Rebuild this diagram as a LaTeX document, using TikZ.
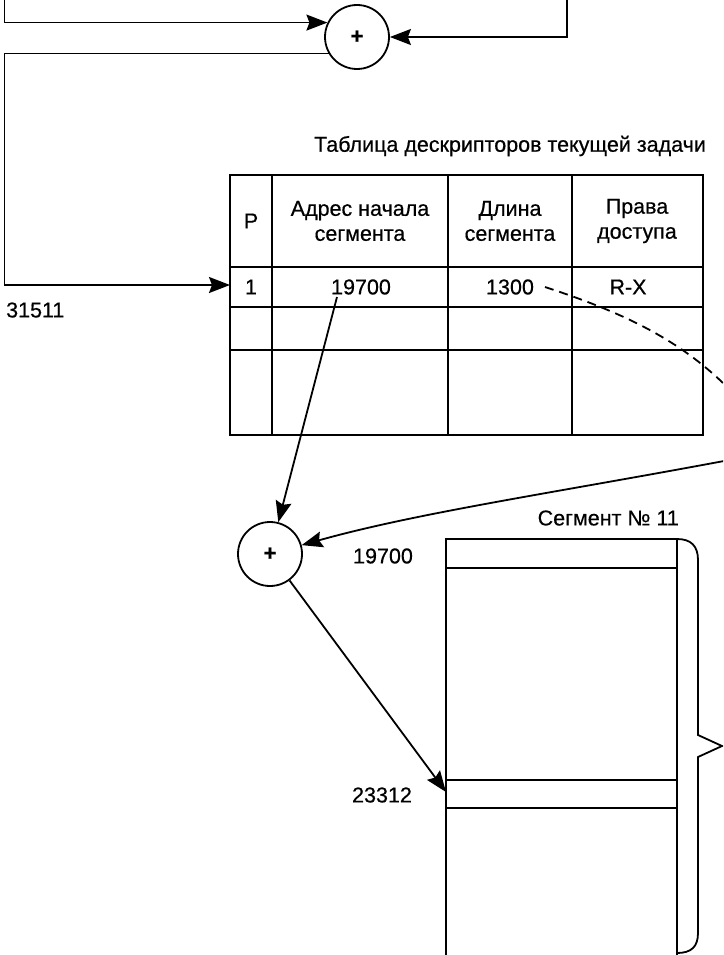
\documentclass[tikz,border=0pt]{standalone}
\usepackage{fontspec}
\setmainfont[FakeBold=0.5]{Liberation Sans}
\usetikzlibrary{arrows.meta}
\begin{document}
\begin{tikzpicture}[x=1pt,y=-1pt,
  ln/.style={line width=1.8pt},
  tab/.style={line width=1.9pt},
  arr/.style={ln,-{Stealth[length=21pt,width=16pt,inset=3pt]}},
  sum/.style={circle,draw,line width=1.8pt,minimum size=64pt,inner sep=0pt,font=\bfseries\fontsize{22}{22}\selectfont},
  txt/.style={font=\fontsize{21.5}{25}\selectfont,inner sep=0pt,align=center},
  ]
\useasboundingbox (0,0) rectangle (723,955);
\clip (0,0) rectangle (723,955);
% adders
\node[sum] (c1) at (357,37) {+};
\node[sum] (c2) at (270,554) {+};
% top connectors
\coordinate (l0) at (4.5,0);
\coordinate (r0) at (567,0);
\draw[arr] (l0) |- (c1.154);
\draw[arr] (r0) |- (c1.east);
\coordinate (bl) at (4.5,285);
\coordinate (tin) at (230,285);
\draw[arr] (c1.210) -| (bl) -- (tin);
% table
\node[txt] (title) at (510,146) {Таблица дескрипторов текущей задачи};
\draw[tab] (230,175) rectangle (703,435);
\draw[tab] (230,267) -- (703,267) (230,307) -- (703,307) (230,350) -- (703,350);
\draw[tab] (272,175) -- (272,435) (448,175) -- (448,435) (572,175) -- (572,435);
\node[txt] (hp) at (251,221) {P};
\node[txt] (ha) at (360,221) {Адрес начала\\сегмента};
\node[txt] (hl) at (510,221) {Длина\\сегмента};
\node[txt] (hr) at (637,221) {Права\\доступа};
\node[txt] (p1) at (251,287) {1};
\node[txt] (a1) at (361,287) {19700};
\node[txt] (l1) at (510,287) {1300};
\node[txt] (r1) at (628,287) {R-X};
\node[txt,anchor=west] (n31) at (6,310) {31511};
% dashed and return curve
\coordinate (d0) at (545,287);
\coordinate (d1) at (760,425);
\draw[ln,dash pattern=on 9pt off 6pt] (d0) .. controls (640,318) and (705,352) .. (d1);
\coordinate (rr) at (740,458);
\draw[arr] (rr) .. controls (560,492) and (420,512) .. (c2);
% from base address to adder
\coordinate (a0) at (337,297);
\draw[arr] (a0) -- (c2);
% segment
\node[txt,anchor=east] (segt) at (679,518) {Сегмент № 11};
\node[txt] (s197) at (383,556) {19700};
\node[txt] (s233) at (382,795) {23312};
\draw[tab] (446,956) -- (446,539) -- (677,539) -- (677,956);
\draw[tab] (446,568) -- (677,568) (446,780) -- (677,780) (446,808) -- (677,808);
\coordinate (t2) at (446,792);
\draw[arr] (c2) -- (t2);
% brace
\draw[ln] (677,539) .. controls (691,539) and (698,546) .. (698,560) -- (698,735) -- (722,746) -- (698,757) -- (698,933) .. controls (698,947) and (691,953) .. (677,953);
\end{tikzpicture}
\end{document}
